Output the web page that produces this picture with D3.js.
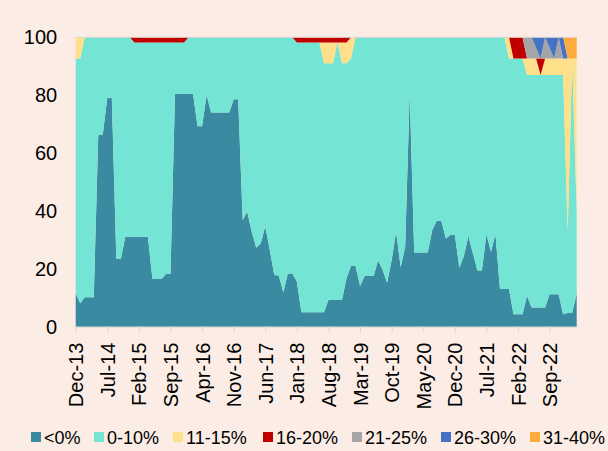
<!DOCTYPE html>
<html><head><meta charset="utf-8">
<script src="https://cdn.jsdelivr.net/npm/d3@7"></script>
<style>
html,body{margin:0;padding:0;background:#FBEDE5;}
svg{display:block;font-family:"Liberation Sans",Arial,sans-serif;}
</style></head><body>
<svg id="chart" width="608" height="451"></svg>
<script>
// Categories: monthly from Dec-13 to Mar-23
const categories = d3.timeMonth.range(new Date(2013, 11, 1), new Date(2023, 3, 1)).map(d3.timeFormat("%b-%y"));

const tickLabels = ["Dec-13","Jul-14","Feb-15","Sep-15","Apr-16","Nov-16","Jun-17","Jan-18",
  "Aug-18","Mar-19","Oct-19","May-20","Dec-20","Jul-21","Feb-22","Sep-22"];
const yTicks = [0,20,40,60,80,100];

const seriesNames = ["<0%","0-10%","11-15%","16-20%","21-25%","26-30%","31-40%"];
const seriesColors = ["#3A8AA2","#74E4D5","#FFE08A","#C00000","#A5A5A5","#4472C4","#FFAA3C"];

const lt0 = [11.5,8.1,10.2,10.2,10.2,66.2,66.4,79.1,79.1,23.4,
  23.4,31.1,31.1,31.1,31.1,31.1,31.1,16.5,16.5,16.5,
  18.2,18.2,80.4,80.4,80.4,80.4,80.4,69.3,69.3,80.1,
  74,74,74,74,74,78.6,78.6,36.9,39.7,32.8,
  27.3,28.8,34.6,26.5,17.9,17.7,11.8,18.4,18.4,15.6,
  5,5,5,5,5,5,9.2,9.2,9.2,9.2,
  16.7,21,21,14.1,17.5,17.5,17.5,23,19.6,15.2,
  23,32.8,20.5,27.6,80.9,25.6,25.6,25.6,25.6,33.4,
  36.6,36.6,30.5,31.7,31.9,20.4,24.4,31.3,25.4,19.4,
  19.4,32,25.9,32,13,13,13,4.3,4.3,4.3,
  10.7,6.6,6.6,6.6,6.6,11.2,11.2,11.2,4.3,4.7,
  4.7,11.5];

const p0to10 = [81.2,84.6,89.8,89.8,89.8,33.8,33.6,20.9,20.9,76.6,
  76.6,68.9,68.9,67.1,67.1,67.1,67.1,81.7,81.7,81.7,
  80.0,80.0,17.8,17.8,17.8,19.6,19.6,30.7,30.7,19.9,
  26,26,26,26,26,21.4,21.4,63.1,60.3,67.2,
  72.7,71.2,65.4,73.5,82.1,82.3,88.2,81.6,81.6,82.6,
  93.2,93.2,93.2,93.2,93.2,86.0,81.8,81.8,89.0,81.8,
  74.3,71.7,79,85.9,82.5,82.5,82.5,77,80.4,84.8,
  77,67.2,79.5,72.4,19.1,74.4,74.4,74.4,74.4,66.6,
  63.4,63.4,69.5,68.3,68.1,79.6,75.6,68.7,74.6,80.6,
  80.6,68,74.1,68,87,87,79.7,88.4,88.4,88.4,
  76.3,80.4,80.4,80.4,80.4,75.8,75.8,75.8,82.7,28.3,
  87.2,28.5];

const p11to15 = [7.3,7.3,0,0,0,0,0,0,0,0,
  0,0,0,0,0,0,0,0,0,0,
  0,0,0,0,0,0,0,0,0,0,
  0,0,0,0,0,0,0,0,0,0,
  0,0,0,0,0,0,0,0,0,0,
  0,0,0,0,0,7.2,7.2,7.2,0,7.2,
  7.2,7.3,0,0,0,0,0,0,0,0,
  0,0,0,0,0,0,0,0,0,0,
  0,0,0,0,0,0,0,0,0,0,
  0,0,0,0,0,0,7.3,0,0,0,
  5.7,5.7,5.7,0,5.7,5.7,5.7,5.7,5.7,59.7,
  0.8,52.7];

const p16to20 = [0,0,0,0,0,0,0,0,0,0,
  0,0,0,1.8,1.8,1.8,1.8,1.8,1.8,1.8,
  1.8,1.8,1.8,1.8,1.8,0,0,0,0,0,
  0,0,0,0,0,0,0,0,0,0,
  0,0,0,0,0,0,0,0,0,1.8,
  1.8,1.8,1.8,1.8,1.8,1.8,1.8,1.8,1.8,1.8,
  1.8,0,0,0,0,0,0,0,0,0,
  0,0,0,0,0,0,0,0,0,0,
  0,0,0,0,0,0,0,0,0,0,
  0,0,0,0,0,0,0,7.3,7.3,7.3,
  0,0,0,5.7,0,0,0,0,0,0,
  0,0];

const p21to25 = [0,0,0,0,0,0,0,0,0,0,
  0,0,0,0,0,0,0,0,0,0,
  0,0,0,0,0,0,0,0,0,0,
  0,0,0,0,0,0,0,0,0,0,
  0,0,0,0,0,0,0,0,0,0,
  0,0,0,0,0,0,0,0,0,0,
  0,0,0,0,0,0,0,0,0,0,
  0,0,0,0,0,0,0,0,0,0,
  0,0,0,0,0,0,0,0,0,0,
  0,0,0,0,0,0,0,0,0,0,
  7.3,7.3,3.65,0,7.3,3.65,0,7.3,0,0,
  0,0];

const p26to30 = [0,0,0,0,0,0,0,0,0,0,
  0,0,0,0,0,0,0,0,0,0,
  0,0,0,0,0,0,0,0,0,0,
  0,0,0,0,0,0,0,0,0,0,
  0,0,0,0,0,0,0,0,0,0,
  0,0,0,0,0,0,0,0,0,0,
  0,0,0,0,0,0,0,0,0,0,
  0,0,0,0,0,0,0,0,0,0,
  0,0,0,0,0,0,0,0,0,0,
  0,0,0,0,0,0,0,0,0,0,
  0,0,3.65,7.3,0,3.65,7.3,0,7.3,0,
  0,0];

const p31to40 = [0,0,0,0,0,0,0,0,0,0,
  0,0,0,0,0,0,0,0,0,0,
  0,0,0,0,0,0,0,0,0,0,
  0,0,0,0,0,0,0,0,0,0,
  0,0,0,0,0,0,0,0,0,0,
  0,0,0,0,0,0,0,0,0,0,
  0,0,0,0,0,0,0,0,0,0,
  0,0,0,0,0,0,0,0,0,0,
  0,0,0,0,0,0,0,0,0,0,
  0,0,0,0,0,0,0,0,0,0,
  0,0,0,0,0,0,0,0,0,7.3,
  7.3,7.3];

const seriesValues = [lt0,p0to10,p11to15,p16to20,p21to25,p26to30,p31to40];

const table = categories.map((c,i)=>{
  const row = {idx:i, cat:c};
  seriesNames.forEach((n,k)=>row[n]=seriesValues[k][i]);
  return row;
});

const svg = d3.select("#chart");
const M = {left:75.7, right:576.7, top:37.3, bottom:326.7};

const x = d3.scaleLinear().domain([0, categories.length-1]).range([M.left, M.right]);
const y = d3.scaleLinear().domain([0,100]).range([M.bottom, M.top]);
const color = d3.scaleOrdinal().domain(seriesNames).range(seriesColors);

const stacked = d3.stack().keys(seriesNames)(table);
const area = d3.area()
  .x(d=>x(d.data.idx))
  .y0(d=>y(d[0]))
  .y1(d=>y(d[1]));

svg.append("g").selectAll("path").data(stacked).join("path")
  .attr("d", area)
  .attr("fill", d=>color(d.key));

// top edge line
svg.append("line").attr("x1",M.left).attr("x2",M.right).attr("y1",M.top).attr("y2",M.top)
  .attr("stroke","#DCD6D2").attr("stroke-width",1);

// Y axis
const yAxis = svg.append("g").attr("transform",`translate(${M.left},0)`)
  .call(d3.axisLeft(y).tickValues(yTicks).tickSize(0).tickPadding(18.5));
yAxis.select(".domain").remove();
yAxis.selectAll("text").attr("font-size",20).attr("fill","#000")
  .attr("font-family","'Liberation Sans',Arial,sans-serif");

// X axis
const tickIdx = tickLabels.map(l=>categories.indexOf(l));
const xAxis = svg.append("g").attr("transform",`translate(0,${M.bottom})`)
  .call(d3.axisBottom(x).tickValues(tickIdx).tickSize(6).tickSizeOuter(0)
    .tickFormat(i=>categories[i]));
xAxis.select(".domain").attr("stroke","#D9D9D9");
xAxis.selectAll(".tick line").attr("stroke","#D9D9D9");
xAxis.selectAll("text")
  .attr("font-size",20).attr("fill","#000")
  .attr("font-family","'Liberation Sans',Arial,sans-serif")
  .attr("text-anchor","end")
  .attr("transform","rotate(-90)")
  .attr("x",-16).attr("y",0).attr("dy","0.35em");

// Legend
const legendX = [31,94,173,263,352,441,530];
const lg = svg.append("g").selectAll("g").data(seriesNames).join("g")
  .attr("transform",(d,i)=>`translate(${legendX[i]},432)`);
lg.append("rect").attr("width",10).attr("height",10).attr("fill",d=>color(d));
lg.append("text").attr("x",13).attr("y",11.5).attr("font-size",18).attr("fill","#000")
  .text(d=>d);
</script>
</body></html>
